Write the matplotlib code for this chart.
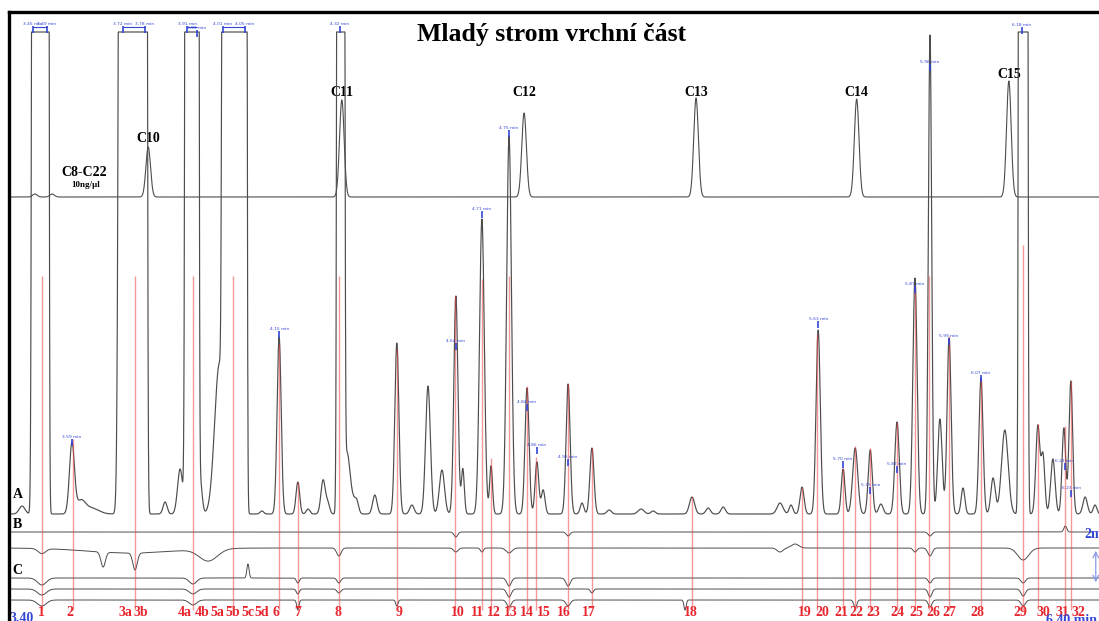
import numpy as np
import matplotlib
matplotlib.use('Agg')
import matplotlib.pyplot as plt
from matplotlib.lines import Line2D

SERIF = 'Liberation Serif'
BLUE = '#3347d6'
RED = '#e8262e'
TRACE = '#4d4d4d'

# retention time window of the record (min)
t_first, t_last = 3.40, 6.40

# standard mix C8-C22, 10 ng/ul
std_rt = [3.487, 3.534, 3.796, 4.324, 4.821, 5.290, 5.728, 6.143]
std_h = [3, 3, 50, 97, 84, 99, 98, 116]
std_names = ['', '', 'C10', 'C11', 'C12', 'C13', 'C14', 'C15']
std_label_h = [0, 0, 59, 105, 104, 104, 104, 123]

# sample trace A, resolved peaks: rt (min), height, sigma (min)
a_rt = [3.452, 3.588, 3.612, 3.640, 3.842, 3.883, 3.937, 3.990, 4.106,
        4.153, 4.204, 4.232, 4.273, 4.286, 4.338, 4.355, 4.365, 4.414,
        4.474, 4.515, 4.559, 4.597, 4.635, 4.654, 4.706, 4.731, 4.780,
        4.829, 4.856, 4.873, 4.941, 4.979, 5.006, 5.053, 5.140, 5.173,
        5.279, 5.323, 5.364, 5.519, 5.549, 5.579, 5.623, 5.691, 5.724,
        5.765, 5.794, 5.838, 5.887, 5.928, 5.955, 5.980, 6.018, 6.067,
        6.100, 6.132, 6.222, 6.236, 6.263, 6.293, 6.312, 6.351, 6.378]
a_h = [8, 70, 12, 6, 12, 45, 36, 150, 3,
       177, 32, 5, 34, 10, 60, 12, 9, 19,
       171, 9, 128, 44, 218, 45, 295, 48, 378,
       126, 52, 24, 130, 11, 66, 4, 5, 3,
       17, 6, 7, 11, 9, 27, 184, 45, 66,
       64, 10, 92, 236, 479, 95, 176, 26, 136,
       36, 84, 88, 58, 55, 86, 133, 17, 9]
a_w = [0.008, 0.0068, 0.012, 0.02, 0.0055, 0.007, 0.0055, 0.013, 0.005,
       0.0055, 0.005, 0.005, 0.006, 0.005, 0.008, 0.008, 0.005, 0.006,
       0.0055, 0.006, 0.0065, 0.007, 0.0055, 0.004, 0.0065, 0.004, 0.0065,
       0.0055, 0.005, 0.005, 0.0055, 0.005, 0.0055, 0.006, 0.008, 0.006,
       0.007, 0.006, 0.006, 0.008, 0.005, 0.0055, 0.0058, 0.005, 0.007,
       0.0055, 0.006, 0.006, 0.0058, 0.0045, 0.006, 0.0055, 0.005, 0.0055,
       0.006, 0.009, 0.0055, 0.005, 0.006, 0.005, 0.005, 0.006, 0.005]

# detector-saturated bands of trace A: start, end, left/right edge sigma (min)
sat_start = [3.485, 3.727, 3.903, 4.004, 4.316, 6.175]
sat_end = [3.520, 3.787, 3.929, 4.060, 4.326, 6.189]
sat_lw = [0.0035, 0.006, 0.0035, 0.0035, 0.003, 0.003]
sat_rw = [0.0028, 0.0033, 0.0028, 0.0028, 0.003, 0.003]

# baseline traces B and C: (rt, amplitude, sigma)
b1_feat = [(4.635, -5, 0.005), (4.941, -4, 0.005), (5.928, -4, 0.005), (6.297, 6, 0.004)]
b2_feat = [(3.506, -5, 0.01), (3.673, -15, 0.006), (3.760, -17, 0.006),
           (3.75, -5, 0.12), (3.96, -12, 0.025), (4.316, -8, 0.006),
           (4.635, -4, 0.006), (4.706, -4, 0.004), (4.780, -5, 0.008),
           (5.519, -4, 0.008), (5.56, 4, 0.01), (5.887, -4, 0.005),
           (5.928, -8, 0.006), (6.182, -12, 0.015)]
c1_feat = [(3.506, -7, 0.012), (3.918, -6, 0.01), (4.068, 14, 0.003),
           (4.204, -5, 0.004), (4.316, -5, 0.005), (4.780, -8, 0.006),
           (4.941, -8, 0.006), (5.928, -5, 0.005), (6.182, -5, 0.006)]
c2_feat = [(3.506, -6, 0.012), (3.918, -5, 0.01), (4.204, -5, 0.004),
           (4.316, -4, 0.005), (4.780, -8, 0.006), (5.006, -4, 0.004),
           (5.928, -8, 0.005), (6.182, -7, 0.006)]
c3_feat = [(3.506, -6, 0.012), (3.918, -5, 0.01), (4.204, -10, 0.003),
           (4.474, -6, 0.003), (4.780, -7, 0.006), (4.941, -6, 0.006),
           (5.26, -10, 0.003), (5.724, -8, 0.004), (5.928, -7, 0.005),
           (6.182, -6, 0.006)]

# integrated peaks (red markers)
mark_rt = [3.506, 3.591, 3.760, 3.918, 4.027, 4.153, 4.204, 4.316, 4.474,
           4.633, 4.706, 4.731, 4.780, 4.829, 4.853, 4.941, 5.006, 5.279,
           5.579, 5.620, 5.691, 5.724, 5.765, 5.838, 5.887, 5.925, 5.980,
           6.067, 6.182, 6.223, 6.297, 6.313]
mark_top = [238, 75, 238, 238, 238, 170, 32, 238, 165,
            218, 235, 56, 238, 128, 57, 130, 66, 17,
            27, 180, 46, 68, 66, 92, 228, 238, 178,
            135, 269, 90, 88, 133]
mark_names = ['1', '2', '3a', '3b', '4a', '4b', '5a', '5b', '5c', '5d', '6', '7',
              '8', '9', '10', '11', '12', '13', '14', '15', '16', '17', '18', '19',
              '20', '21', '22', '23', '24', '25', '26', '27', '28', '29', '30',
              '31', '32']
mark_name_rt = [3.504, 3.583, 3.733, 3.776, 3.896, 3.943, 3.984, 4.027, 4.068,
                4.106, 4.145, 4.204, 4.314, 4.480, 4.641, 4.695, 4.739, 4.785,
                4.829, 4.875, 4.930, 4.998, 5.276, 5.587, 5.633, 5.685, 5.726,
                5.773, 5.838, 5.890, 5.936, 5.980, 6.056, 6.173, 6.236, 6.288,
                6.332]

# retention-time flags printed by the integrator
flag_txt = ['3.45 min', '3.49 min', '3.72 min', '3.78 min', '3.91 min', '3.93 min',
            '4.01 min', '4.05 min', '4.32 min', '3.59 min', '4.15 min', '4.64 min',
            '4.71 min', '4.75 min', '4.84 min', '4.86 min', '4.95 min', '5.63 min',
            '5.70 min', '5.75 min', '5.82 min', '5.87 min', '5.96 min', '5.99 min',
            '6.07 min', '6.18 min', '6.22 min', '6.23 min']
flag_rt = [3.482, 3.520, 3.727, 3.787, 3.902, 3.929, 4.000, 4.060, 4.319,
           3.588, 4.153, 4.635, 4.706, 4.780, 4.829, 4.856, 4.941, 5.623,
           5.691, 5.765, 5.838, 5.887, 5.928, 5.980, 6.067, 6.179, 6.295, 6.313]
flag_y = [595, 595, 595, 595, 595, 591, 595, 595, 595,
          182, 290, 278, 410, 491, 217, 174, 162, 300,
          160, 134, 155, 335, 557, 283, 246, 594, 158, 131]

# vertical placement of the traces (signal units)
STD_BASE, A_BASE, CLIP = 424, 107, 482
B_BASE = [89, 73]
C_BASE = [43, 32, 21]


def gauss_sum(t, rts, hs, ws):
    y = np.zeros_like(t)
    for c, h, w in zip(rts, hs, ws):
        y += h * np.exp(-0.5 * ((t - c) / w) ** 2)
    return y


def features(t, feats):
    return gauss_sum(t, [f[0] for f in feats], [f[1] for f in feats], [f[2] for f in feats])


px = 1 / 366.7  # minutes per pixel of the original record
fig = plt.figure(figsize=(10.99, 6.21), dpi=100)
ax = fig.add_axes([0, 0, 1, 1])
ax.set_xlim(t_first - 3 * px, t_first + 1096 * px)
ax.set_ylim(0, 621)
ax.axis('off')

t = np.linspace(t_first + 7 * px, ax.get_xlim()[1], 8000)

# standard
y_std = STD_BASE + gauss_sum(t, std_rt, std_h, [0.0063] * len(std_rt))
ax.plot(t, y_std, color=TRACE, lw=0.8)
for c, h, name, lh in zip(std_rt, std_h, std_names, std_label_h):
    if name:
        ax.text(c, STD_BASE + lh, name, ha='center', va='center', family=SERIF,
                fontweight='bold', fontsize=10)
ax.text(3.622, 448, 'C8-C22', ha='center', va='center', family=SERIF,
        fontweight='bold', fontsize=10)
ax.text(3.625, 436, '10ng/µl', ha='center', va='center', family=SERIF,
        fontweight='bold', fontsize=6.5)

# sample A
y_a = gauss_sum(t, a_rt, a_h, a_w)
for s, e, lw_, rw_ in zip(sat_start, sat_end, sat_lw, sat_rw):
    d = np.where(t < s, (t - s) / lw_, np.where(t > e, (t - e) / rw_, 0.0))
    y_a += 5000 * np.exp(-0.5 * d ** 2)
y_a = A_BASE + np.minimum(y_a, CLIP)
ax.plot(t, y_a, color=TRACE, lw=0.85, zorder=3)

# baselines B, C
for base, feats, end in [(B_BASE[0], b1_feat, 6.369), (B_BASE[1], b2_feat, 6.39),
                         (C_BASE[0], c1_feat, 6.39), (C_BASE[1], c2_feat, 6.39),
                         (C_BASE[2], c3_feat, 6.39)]:
    m = t <= end
    ax.plot(t[m], base + features(t[m], feats), color=TRACE, lw=0.7)

# red markers
ax.vlines(mark_rt, 11, [A_BASE + h for h in mark_top], color='#ee4444',
          alpha=0.55, lw=1.0, zorder=4)
for name, c in zip(mark_names, mark_name_rt):
    ax.text(c, 9, name, ha='center', va='center', color=RED, family=SERIF,
            fontweight='bold', fontsize=10)

# blue flags
for txt, c, y in zip(flag_txt, flag_rt, flag_y):
    ax.text(c, y, txt, ha='center', va='bottom', color=BLUE, fontsize=3.2)
    ax.vlines(c, y - 7, y, color=BLUE, lw=1.2, zorder=5)
for a, b in [(0, 1), (2, 3), (4, 5), (6, 7)]:
    ax.hlines(flag_y[a] - 1, flag_rt[a], flag_rt[b], color=BLUE, lw=0.8)

# trace letters
for lab, y in [('A', 126), ('B', 96), ('C', 50)]:
    ax.text(3.440, y, lab, ha='center', va='center', family=SERIF,
            fontweight='bold', fontsize=10)

ax.text(t_first + 19 * px, 2, '3.40', ha='center', va='center', color=BLUE,
        family=SERIF, fontweight='bold', fontsize=10)
ax.text(ax.get_xlim()[1] - 2 * px, 1, '6.40 min', ha='right', va='center',
        color=BLUE, family=SERIF, fontweight='bold', fontsize=10)
ax.text(6.348, 86, '2mV', ha='left', va='center', color=BLUE, family=SERIF,
        fontweight='bold', fontsize=10)
ax.annotate('', xy=(6.380, 73), xytext=(6.380, 36),
            arrowprops=dict(arrowstyle='<->', color='#8a9ae8', lw=0.9))

# frame and title
fig.add_artist(Line2D([9 / 1099, 1], [1 - 12 / 621] * 2, color='black', lw=2.4))
fig.add_artist(Line2D([9 / 1099] * 2, [0, 1 - 12 / 621], color='black', lw=2.4))
fig.text(0.502, 1 - 35 / 621, 'Mladý strom vrchní část', ha='center', va='center',
         family=SERIF, fontweight='bold', fontsize=18.5)

fig.savefig('out.png', dpi=100)
